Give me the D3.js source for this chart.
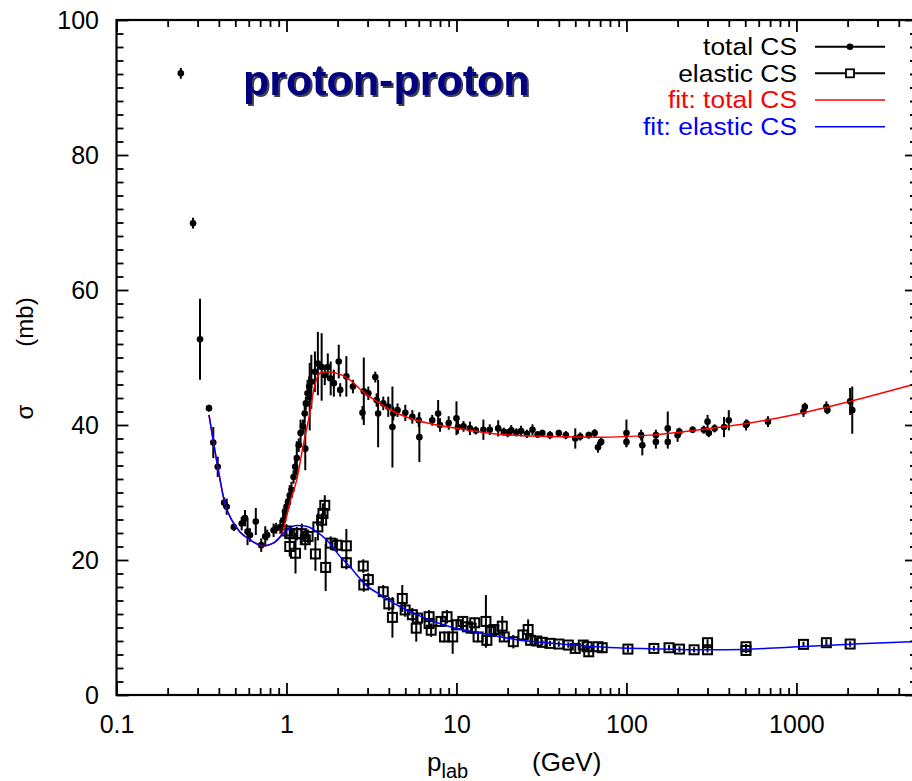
<!DOCTYPE html>
<html>
<head>
<meta charset="utf-8">
<script src="https://cdn.jsdelivr.net/npm/d3@7"></script>
<style>
html,body{margin:0;padding:0;background:#fff;}
svg{display:block;font-family:"Liberation Sans",Arial,Helvetica,sans-serif;}
</style>
</head>
<body>
<svg id="chart" width="912" height="781"></svg>
<script>
// ---------- data ----------
const xTickValues = [0.1, 1, 10, 100, 1000];
const xTickLabels = ["0.1", "1", "10", "100", "1000"];
const yTickValues = [0, 20, 40, 60, 80, 100];
const yTickLabels = ["0", "20", "40", "60", "80", "100"];

const totalP = [0.239,0.282,0.31,0.35,0.371,0.394,0.43,0.445,0.49,0.545,0.57,0.59,0.61,0.66,0.71,0.75,0.77,0.84,0.87,0.92,
  0.955,0.98,1.0,1.02,1.045,1.07,1.10,1.125,1.15,1.18,1.21,1.25,1.28,1.29,1.30,1.33,1.36,1.37,1.40,1.47,
  1.53,1.61,1.68,1.75,1.82,1.9,2.03,2.07,2.25,2.46,2.8,2.85,3.03,3.33,3.39,3.46,3.71,3.97,4.2,4.25,
  4.5,5.0,5.5,6.0,6.05,7.2,7.8,8.0,9.0,10,10.2,11,12,13,14.4,15.7,17.6,19,20,21,
  22.5,24,26,28,30,32,35.5,40,44,50,53.5,60,65,68,71,100,100,122,124,149,
  149,175,175,200,205,245,285,300,305,330,375,400,505,510,680,1100,1120,1500,1520,2070,2130];
const totalSigma = [92.1,69.9,52.7,42.5,37.4,33.8,28.5,27.9,24.9,25.4,26.2,24.2,23.7,25.7,22.2,23.5,23.7,24.4,24.7,24.9,
  25.9,27.2,27.9,28.6,29.6,30.4,32.3,33.8,35.1,37.0,38.8,39.8,41.7,36.5,43.2,44.7,45.7,44.2,46.4,47.9,
  49.1,48.6,47.4,48.6,46.9,46.2,49.4,45.2,47.2,45.7,41.8,45.0,44.7,47.1,43.7,41.7,43.2,42.7,39.7,41.7,
  42.2,41.8,41.2,40.7,38.2,40.7,41.7,40.0,40.3,41.0,39.7,39.8,39.5,39.2,39.3,39.3,39.5,39.0,38.8,39.2,
  38.9,39.1,38.7,39.3,38.6,38.8,38.5,38.8,38.5,38.0,38.3,38.5,38.8,36.7,37.5,38.8,37.5,38.5,37.0,38.5,
  37.5,39.5,37.5,38.5,39.0,39.3,39.3,40.5,38.8,39.5,39.7,40.7,40.0,40.2,40.5,42.0,42.7,42.7,42.2,43.5,42.2];
const totalErr = [0.8,0.8,6.0,0.5,2.3,1.5,0.8,1.2,0.6,1.0,1.2,2.0,1.0,2.0,1.0,1.5,0.8,1.0,0.8,1.0,
  1.5,1.0,1.2,1.0,1.5,1.2,1.0,1.5,2.5,1.0,2.0,1.0,1.5,3.2,1.0,2.0,1.5,5.0,4.0,3.0,
  4.7,5.0,1.5,2.0,2.5,2.0,2.5,1.0,3.0,1.0,1.0,5.0,1.0,0.8,1.0,5.0,1.0,1.5,6.0,1.0,
  1.0,1.2,1.0,1.0,3.7,0.8,2.0,1.0,1.0,2.5,1.0,0.8,1.0,0.6,1.5,0.8,1.2,0.6,0.6,0.8,
  0.6,0.8,0.6,0.8,0.5,0.5,0.6,0.5,0.6,1.5,0.6,0.5,0.6,0.8,0.6,2.0,0.8,0.8,1.5,0.8,
  1.0,2.5,1.0,1.0,0.6,0.5,0.6,1.0,0.6,0.6,1.5,1.5,0.8,0.6,0.8,0.8,0.6,0.8,0.6,2.0,3.5];

const elasticP = [1.0,1.045,1.045,1.13,1.15,1.23,1.29,1.34,1.48,1.53,1.61,1.64,1.68,1.70,1.82,1.98,2.25,2.25,2.83,2.85,
  3.03,3.71,4.0,4.2,4.8,4.99,5.5,5.8,5.9,6.9,6.9,7.1,8.1,8.5,8.8,9.5,10,10.9,11.6,12.2,
  12.8,13.4,14.9,15.1,16,16.6,18.6,19.1,21.6,24.6,26.4,27.3,29.7,32,35.5,40,45.5,50,55.7,58.7,
  60,68,72,102,145,178,205,250,300,300,505,505,1100,1500,2070];
const elasticSigma = [24.3,23.9,22.0,21.0,23.9,23.9,23.0,23.5,20.9,24.9,25.9,26.9,28.1,18.9,22.5,22.2,22.1,19.6,19.1,16.3,
  17.1,15.3,13.5,11.5,14.3,12.6,11.9,9.9,11.4,11.6,10.6,9.6,10.9,8.6,11.6,8.6,10.4,10.9,10.1,9.9,
  10.7,8.6,10.9,8.1,9.4,9.7,10.2,8.6,7.9,8.9,9.7,8.1,8.0,7.8,7.65,7.55,7.4,6.9,7.4,7.15,
  6.4,7.15,7.0,6.8,6.9,7.0,6.8,6.7,7.75,6.7,7.15,6.6,7.5,7.75,7.55];
const elasticErr = [1.0,1.0,1.5,3.0,1.0,1.5,1.5,1.0,2.5,2.0,1.0,1.5,1.5,3.5,1.0,1.0,2.5,1.0,1.0,1.0,
  1.0,1.0,1.0,3.0,2.0,1.0,1.0,2.0,0.8,1.0,0.8,1.0,0.8,0.8,1.0,2.5,0.8,0.8,0.6,0.8,
  0.8,0.8,3.9,0.8,0.6,0.6,1.5,0.6,1.0,0.6,1.5,0.6,0.5,0.4,0.4,0.4,0.4,0.6,0.4,0.4,
  0.6,0.5,0.4,0.5,0.4,0.4,0.4,0.4,0.5,0.4,0.4,0.4,0.4,0.5,0.4];

const fitTotalP = [0.35,0.37,0.394,0.434,0.477,0.531,0.61,0.731,0.836,0.937,0.98,1.045,1.15,1.25,1.37,1.45,1.52,1.61,1.75,2.07,
  2.36,2.83,3.39,4.25,5.32,7.65,11.5,18,35.5,70,137,270,532,1050,2065,4700];
const fitTotalSigma = [41.5,37.8,33.8,28.4,25.9,24.2,23.0,22.1,22.5,23.8,25.5,28.4,31.9,36.8,41.7,45.3,47.1,47.8,47.9,47.5,
  46.7,44.9,43.5,42.0,41.0,40.0,39.3,38.6,38.3,38.2,38.5,39.3,40.3,41.7,43.5,45.9];
const fitElasticP = [0.35,0.37,0.394,0.434,0.477,0.531,0.61,0.731,0.836,0.937,1.0,1.15,1.31,1.5,1.72,2.07,2.36,2.96,3.71,4.5,
  5.83,9.17,14.4,22.6,35.5,55.7,87.5,137,250,389,955,2345,4700];
const fitElasticSigma = [41.5,37.8,33.8,28.4,25.9,24.2,23.0,22.1,22.5,23.7,24.4,25.1,25.0,24.2,23.0,20.5,19.0,16.2,14.6,13.3,
  11.9,10.1,9.1,8.2,7.7,7.3,7.0,6.85,6.7,6.7,7.1,7.6,7.9];

const legendLabels = ["total CS", "elastic CS", "fit: total CS", "fit: elastic CS"];
const legendColors = ["#000000", "#000000", "#ff0000", "#0000ff"];
const titleText = "proton-proton";

// ---------- layout ----------
const svg = d3.select("#chart");
const L = 116.5, R = 917, T = 20, B = 695;
const x = d3.scaleLog().domain([0.1, 5120]).range([L, R]);
const y = d3.scaleLinear().domain([0, 100]).range([B, T]);

const xMinor = [];
[0.1, 1, 10, 100, 1000].forEach(d => { for (let k = 2; k <= 9; k++) { const v = d * k; if (v <= 5120) xMinor.push(v); } });
const yMinor = d3.range(0, 101, 2).filter(v => v % 20 !== 0);

const tickFont = "25px";

function styleAxis(g) {
  g.select(".domain").remove();
  g.selectAll("line").attr("stroke", "#000").attr("stroke-width", 1.8);
  g.selectAll("text").attr("font-size", tickFont).attr("fill", "#000")
    .attr("font-family", "'Liberation Sans',Arial,sans-serif");
}

const defs = svg.append("defs");
const flt = defs.append("filter").attr("id", "shadow").attr("x", "-10%").attr("y", "-20%")
  .attr("width", "130%").attr("height", "150%");
flt.append("feDropShadow").attr("dx", 2).attr("dy", 2).attr("stdDeviation", 0.6)
  .attr("flood-color", "#000").attr("flood-opacity", 0.75);
defs.append("clipPath").attr("id", "clip")
  .append("rect").attr("x", L).attr("y", T).attr("width", R - L).attr("height", B - T);

// bottom
svg.append("g").attr("transform", `translate(0,${B})`)
  .call(d3.axisBottom(x).tickValues(xTickValues).tickSize(-12).tickPadding(20)
    .tickFormat((d, i) => xTickLabels[i])).call(styleAxis);
svg.append("g").attr("transform", `translate(0,${B})`)
  .call(d3.axisBottom(x).tickValues(xMinor).tickSize(-7).tickFormat("")).call(styleAxis);
// top
svg.append("g").attr("transform", `translate(0,${T})`)
  .call(d3.axisTop(x).tickValues(xTickValues).tickSize(-12).tickFormat("")).call(styleAxis);
svg.append("g").attr("transform", `translate(0,${T})`)
  .call(d3.axisTop(x).tickValues(xMinor).tickSize(-7).tickFormat("")).call(styleAxis);
// left
svg.append("g").attr("transform", `translate(${L},0)`)
  .call(d3.axisLeft(y).tickValues(yTickValues).tickSize(-12).tickPadding(17.5)
    .tickFormat((d, i) => yTickLabels[i])).call(styleAxis);
svg.append("g").attr("transform", `translate(${L},0)`)
  .call(d3.axisLeft(y).tickValues(yMinor).tickSize(-7).tickFormat("")).call(styleAxis);
// right
svg.append("g").attr("transform", `translate(${R},0)`)
  .call(d3.axisRight(y).tickValues(yTickValues).tickSize(-12).tickFormat("")).call(styleAxis);
svg.append("g").attr("transform", `translate(${R},0)`)
  .call(d3.axisRight(y).tickValues(yMinor).tickSize(-7).tickFormat("")).call(styleAxis);

// frame
svg.append("rect").attr("x", L).attr("y", T).attr("width", R - L).attr("height", B - T)
  .attr("fill", "none").attr("stroke", "#000").attr("stroke-width", 2.2);

// axis titles
svg.append("text").attr("transform", `translate(24,412) rotate(-90)`)
  .attr("text-anchor", "middle").attr("dominant-baseline", "central")
  .attr("font-size", "24px").text("σ");
svg.append("text").attr("transform", `translate(24,322) rotate(-90)`)
  .attr("text-anchor", "middle").attr("dominant-baseline", "central")
  .attr("font-size", "24px").text("(mb)");
const xl = svg.append("text").attr("x", 427).attr("y", 771).attr("font-size", "26px");
xl.append("tspan").text("p");
xl.append("tspan").attr("dy", 7).attr("font-size", "20px").text("lab");
svg.append("text").attr("x", 532).attr("y", 771).attr("font-size", "26px").text("(GeV)");

// title with drop shadow
svg.append("text").attr("x", 243).attr("y", 95).attr("font-size", "43px").attr("font-weight", "bold")
  .attr("fill", "#000080").attr("filter", "url(#shadow)").text(titleText);

// data
const plot = svg.append("g");
const totalData = totalP.map((p, i) => ({p, s: totalSigma[i], e: totalErr[i]}));
const elasticData = elasticP.map((p, i) => ({p, s: elasticSigma[i], e: elasticErr[i]}));

function errBars(data) {
  plot.append("g").selectAll("line").data(data).join("line")
    .attr("x1", d => x(d.p)).attr("x2", d => x(d.p))
    .attr("y1", d => y(d.s - d.e)).attr("y2", d => y(d.s + d.e))
    .attr("stroke", "#000").attr("stroke-width", 2);
}
errBars(elasticData);
errBars(totalData);
plot.append("g").selectAll("rect").data(elasticData).join("rect")
  .attr("x", d => x(d.p) - 4.5).attr("y", d => y(d.s) - 4.5).attr("width", 9).attr("height", 9)
  .attr("fill", "none").attr("stroke", "#000").attr("stroke-width", 2);
plot.append("g").selectAll("circle").data(totalData).join("circle")
  .attr("cx", d => x(d.p)).attr("cy", d => y(d.s)).attr("r", 3.3).attr("fill", "#000");

// fits
const line = d3.line().x(d => x(d[0])).y(d => y(d[1])).curve(d3.curveMonotoneX);
const fits = svg.append("g").attr("clip-path", "url(#clip)");
fits.append("path").datum(fitTotalP.map((p, i) => [p, fitTotalSigma[i]]))
  .attr("d", line).attr("fill", "none").attr("stroke", legendColors[2]).attr("stroke-width", 1.5);
fits.append("path").datum(fitElasticP.map((p, i) => [p, fitElasticSigma[i]]))
  .attr("d", line).attr("fill", "none").attr("stroke", legendColors[3]).attr("stroke-width", 1.5);

// legend
const lg = svg.append("g");
const rowY = [46.7, 73.3, 100, 126.7];
legendLabels.forEach((lab, i) => {
  lg.append("text").attr("transform", `translate(797,${rowY[i]}) scale(1.1,1)`)
    .attr("dy", "0.35em").attr("text-anchor", "end").attr("font-size", "24px")
    .attr("fill", legendColors[i]).text(lab);
  lg.append("line").attr("x1", 815).attr("x2", 885).attr("y1", rowY[i]).attr("y2", rowY[i])
    .attr("stroke", legendColors[i]).attr("stroke-width", i < 2 ? 2 : 1.5);
});
lg.append("circle").attr("cx", 850).attr("cy", rowY[0]).attr("r", 3.3).attr("fill", "#000");
lg.append("rect").attr("x", 846).attr("y", rowY[1] - 4).attr("width", 8).attr("height", 8)
  .attr("fill", "#fff").attr("stroke", "#000").attr("stroke-width", 1.8);
</script>
</body>
</html>
